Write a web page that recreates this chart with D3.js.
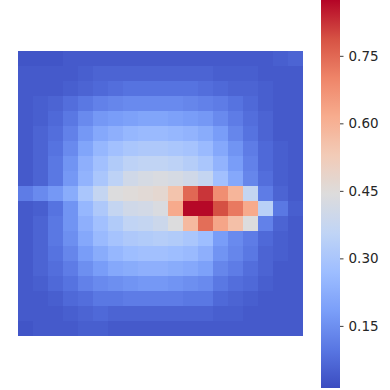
<!DOCTYPE html>
<html>
<head>
<meta charset="utf-8">
<script src="https://cdn.jsdelivr.net/npm/d3@7"></script>
<style>
  html, body { margin: 0; padding: 0; background: #ffffff; }
  svg { display: block; }
</style>
</head>
<body>
<svg id="chart" width="390" height="390"></svg>
<script>
// ---- data ----
const rowLabels = d3.range(19).map(String);
const colLabels = d3.range(19).map(String);
const values = [
  [0.03,0.03,0.03,0.04,0.04,0.04, 0.04,0.04,0.04,0.04,0.04,0.04,0.04, 0.04,0.04,0.04,0.04,0.05,0.06],
  [0.04,0.04,0.04,0.04,0.05,0.06, 0.06,0.06,0.06,0.06,0.06,0.06,0.06, 0.05,0.05,0.05,0.04,0.04,0.04],
  [0.04,0.04,0.04,0.05,0.06,0.07, 0.08,0.09,0.09,0.09,0.09,0.09,0.08, 0.07,0.06,0.06,0.05,0.04,0.04],
  [0.04,0.05,0.06,0.08,0.10,0.12, 0.13,0.14,0.14,0.14,0.14,0.13,0.12, 0.11,0.09,0.07,0.05,0.04,0.04],
  [0.04,0.05,0.07,0.10,0.14,0.17, 0.18,0.19,0.20,0.20,0.19,0.18,0.17, 0.14,0.11,0.08,0.06,0.04,0.04],
  [0.04,0.06,0.08,0.12,0.17,0.21, 0.23,0.25,0.26,0.26,0.25,0.24,0.22, 0.18,0.13,0.09,0.06,0.04,0.04],
  [0.04,0.06,0.09,0.14,0.20,0.25, 0.28,0.30,0.31,0.31,0.30,0.29,0.26, 0.21,0.16,0.11,0.07,0.05,0.04],
  [0.04,0.06,0.10,0.16,0.23,0.28, 0.32,0.35,0.36,0.36,0.35,0.33,0.30, 0.24,0.18,0.12,0.07,0.05,0.04],
  [0.04,0.06,0.10,0.17,0.24,0.30, 0.35,0.40,0.42,0.43,0.42,0.40,0.37, 0.28,0.21,0.13,0.08,0.05,0.04],
  [0.11,0.14,0.17,0.22,0.30,0.37, 0.44,0.45,0.46,0.47,0.55,0.75,0.82, 0.68,0.59,0.37,0.11,0.06,0.04],
  [0.04,0.05,0.09,0.16,0.25,0.31, 0.37,0.40,0.41,0.43,0.62,0.87,0.87, 0.79,0.72,0.62,0.34,0.10,0.05],
  [0.04,0.06,0.10,0.16,0.23,0.28, 0.32,0.36,0.37,0.39,0.44,0.58,0.74, 0.63,0.56,0.44,0.12,0.06,0.04],
  [0.04,0.06,0.10,0.15,0.21,0.26, 0.29,0.31,0.32,0.33,0.32,0.30,0.27, 0.18,0.14,0.11,0.07,0.05,0.04],
  [0.04,0.06,0.09,0.13,0.18,0.22, 0.25,0.27,0.28,0.28,0.27,0.26,0.23, 0.16,0.13,0.10,0.06,0.05,0.04],
  [0.04,0.06,0.08,0.11,0.15,0.18, 0.21,0.22,0.23,0.23,0.22,0.21,0.19, 0.13,0.11,0.08,0.06,0.04,0.04],
  [0.04,0.05,0.07,0.09,0.12,0.14, 0.15,0.16,0.17,0.17,0.16,0.15,0.14, 0.10,0.08,0.07,0.05,0.04,0.04],
  [0.04,0.04,0.05,0.07,0.08,0.10, 0.10,0.11,0.11,0.11,0.11,0.10,0.10, 0.07,0.06,0.05,0.04,0.04,0.04],
  [0.04,0.04,0.04,0.05,0.06,0.07, 0.06,0.06,0.06,0.06,0.06,0.06,0.06, 0.05,0.05,0.04,0.04,0.04,0.04],
  [0.03,0.04,0.04,0.04,0.05,0.05, 0.04,0.04,0.04,0.04,0.04,0.04,0.04, 0.04,0.04,0.04,0.04,0.04,0.04]
];
const colorTicks = [0.15, 0.30, 0.45, 0.60, 0.75];
const colorDomain = [0.012, 0.874];
const coolwarmStops = ["#3b4cc0","#5977e3","#7b9ff9","#9ebeff","#c0d4f5","#dddcdc","#f2cbb7","#f7ac8e","#ee8468","#d65244","#b40426"];

// ---- drawing ----
const svg = d3.select("#chart");
const interp = d3.piecewise(d3.interpolateRgb, coolwarmStops);
const color = d3.scaleSequential(interp).domain(colorDomain).clamp(true);

const hm = { x: 18, y: 51, w: 285, h: 285 };
const x = d3.scaleBand().domain(colLabels).range([hm.x, hm.x + hm.w]);
const y = d3.scaleBand().domain(rowLabels).range([hm.y, hm.y + hm.h]);

const cells = [];
values.forEach((row, i) => row.forEach((v, j) => cells.push({ r: rowLabels[i], c: colLabels[j], v })));

svg.append("g").selectAll("rect").data(cells).join("rect")
  .attr("x", d => x(d.c))
  .attr("y", d => y(d.r))
  .attr("width", x.bandwidth() + 0.3)
  .attr("height", y.bandwidth() + 0.3)
  .attr("fill", d => color(d.v))
  .attr("shape-rendering", "crispEdges");

// ---- colorbar ----
const cb = { x: 321, w: 19, top: 0, bottom: 388 };
const cy = d3.scaleLinear().domain(colorDomain).range([cb.bottom, cb.top]);

const defs = svg.append("defs");
const grad = defs.append("linearGradient").attr("id", "cbgrad")
  .attr("x1", 0).attr("y1", 1).attr("x2", 0).attr("y2", 0);
d3.range(0, 1.0001, 0.02).forEach(t => {
  grad.append("stop").attr("offset", t).attr("stop-color", interp(t));
});
svg.append("rect")
  .attr("x", cb.x).attr("y", cb.top)
  .attr("width", cb.w).attr("height", cb.bottom - cb.top)
  .attr("fill", "url(#cbgrad)");

const axis = d3.axisRight(cy).tickValues(colorTicks).tickFormat(d3.format(".2f"))
  .tickSize(3.5).tickPadding(5);
const ag = svg.append("g").attr("transform", `translate(${cb.x + cb.w},0)`).call(axis);
ag.select(".domain").remove();
ag.selectAll("line").attr("stroke", "#262626").attr("stroke-width", 0.9);
ag.selectAll("text")
  .attr("fill", "#262626")
  .style("font-family", "'DejaVu Sans', sans-serif")
  .style("font-size", "13.5px");
</script>
</body>
</html>
